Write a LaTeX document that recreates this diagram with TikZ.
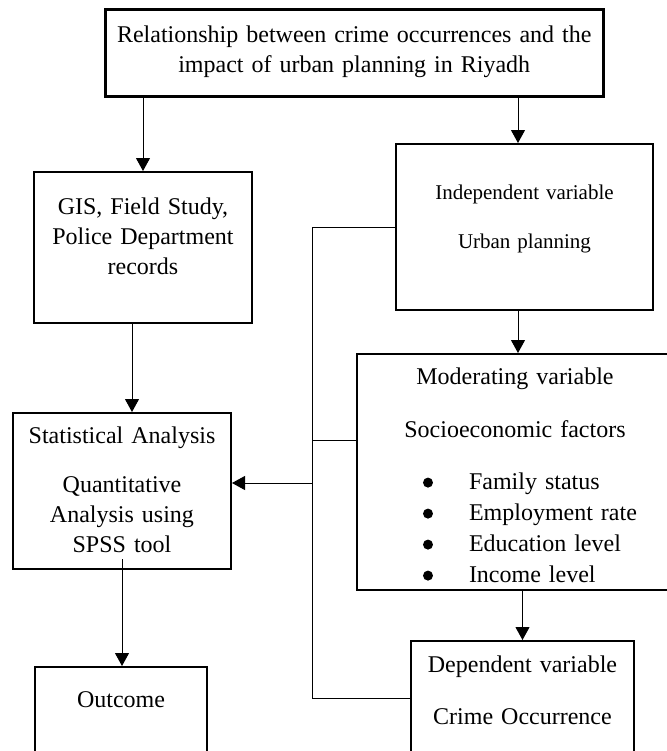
\documentclass[tikz,border=0pt]{standalone}
\usepackage{fontspec}
\setmainfont{Liberation Serif}
\usepackage{tikz}
\usetikzlibrary{arrows.meta, positioning}

\newcommand{\factoritem}[1]{\makebox[92pt][l]{\makebox[23pt][l]{\tikz[baseline=0pt, x=1pt, y=1pt]\fill (0,3.2) circle[radius=2.5];}#1}}

\begin{document}
\begin{tikzpicture}[
    x=0.5pt, y=-0.5pt,
    box/.style={rectangle, draw, line width=1pt, inner sep=0pt, anchor=north west, align=center, font=\fontsize{12}{15}\selectfont},
    conn/.style={line width=0.5pt},
    arr/.style={conn, -{Triangle[length=6.5pt, width=7pt]}}
]
\useasboundingbox (0,0) rectangle (666,751);

% Boxes
\node[box, line width=1.25pt, text width=249pt, text height=16.5pt, text depth=27pt] (title) at (104,8)
  {Relationship between crime occurrences and the\\impact of urban planning in Riyadh};
\node[box, text width=109pt, text height=21pt, text depth=54.5pt] (gis) at (33,171)
  {GIS, Field Study,\\Police Department\\records};
\node[box, text width=128.5pt, text height=27.5pt, text depth=55.5pt, font=\fontsize{10.5}{15}\selectfont] (indep) at (395,143)
  {Independent variable\\[9.5pt]Urban planning};
\node[box, text width=158pt, text height=15pt, text depth=103pt] (moder) at (356,353)
  {Moderating variable\\[11.5pt]Socioeconomic factors\\[11pt]\factoritem{Family status}\\[0.5pt]\factoritem{Employment rate}\\[0.5pt]\factoritem{Education level}\\[0.5pt]\factoritem{Income level}};
\node[box, text width=109pt, text height=15pt, text depth=63pt] (stat) at (12,412)
  {Statistical Analysis\\[9.5pt]Quantitative\\Analysis using\\SPSS tool};
\node[box, text width=86pt, text height=20pt, text depth=27pt] (outcome) at (34,666)
  {Outcome};
\node[box, text width=111.5pt, text height=15.5pt, text depth=41.5pt] (dep) at (410,640)
  {Dependent variable\\[11pt]Crime Occurrence};

% Arrows
\draw[arr] (gis.north |- title.south) -- (gis.north);
\draw[arr] ([xshift=-3.25pt]indep.north |- title.south) -- ([xshift=-3.25pt]indep.north);
\draw[arr] ([xshift=-3.25pt]indep.south) -- ([xshift=-3.25pt]indep.south |- moder.north);
\draw[arr] (dep.north |- moder.south) -- (dep.north);
\draw[arr] ([xshift=-5.5pt]gis.south) -- ([xshift=-5.5pt]gis.south |- stat.north);
\draw[arr] ([yshift=5.5pt]stat.south) -- (stat.south |- outcome.north);

% Variables joined to the analysis
\coordinate (bus) at (312,483);
\draw[conn] (indep.west) -| (bus |- dep.west) -- (dep.west);
\draw[conn] ([yshift=16pt]moder.west) -- ([yshift=16pt]moder.west -| bus);
\draw[arr] (bus) -- (bus -| stat.east);

\end{tikzpicture}
\end{document}
